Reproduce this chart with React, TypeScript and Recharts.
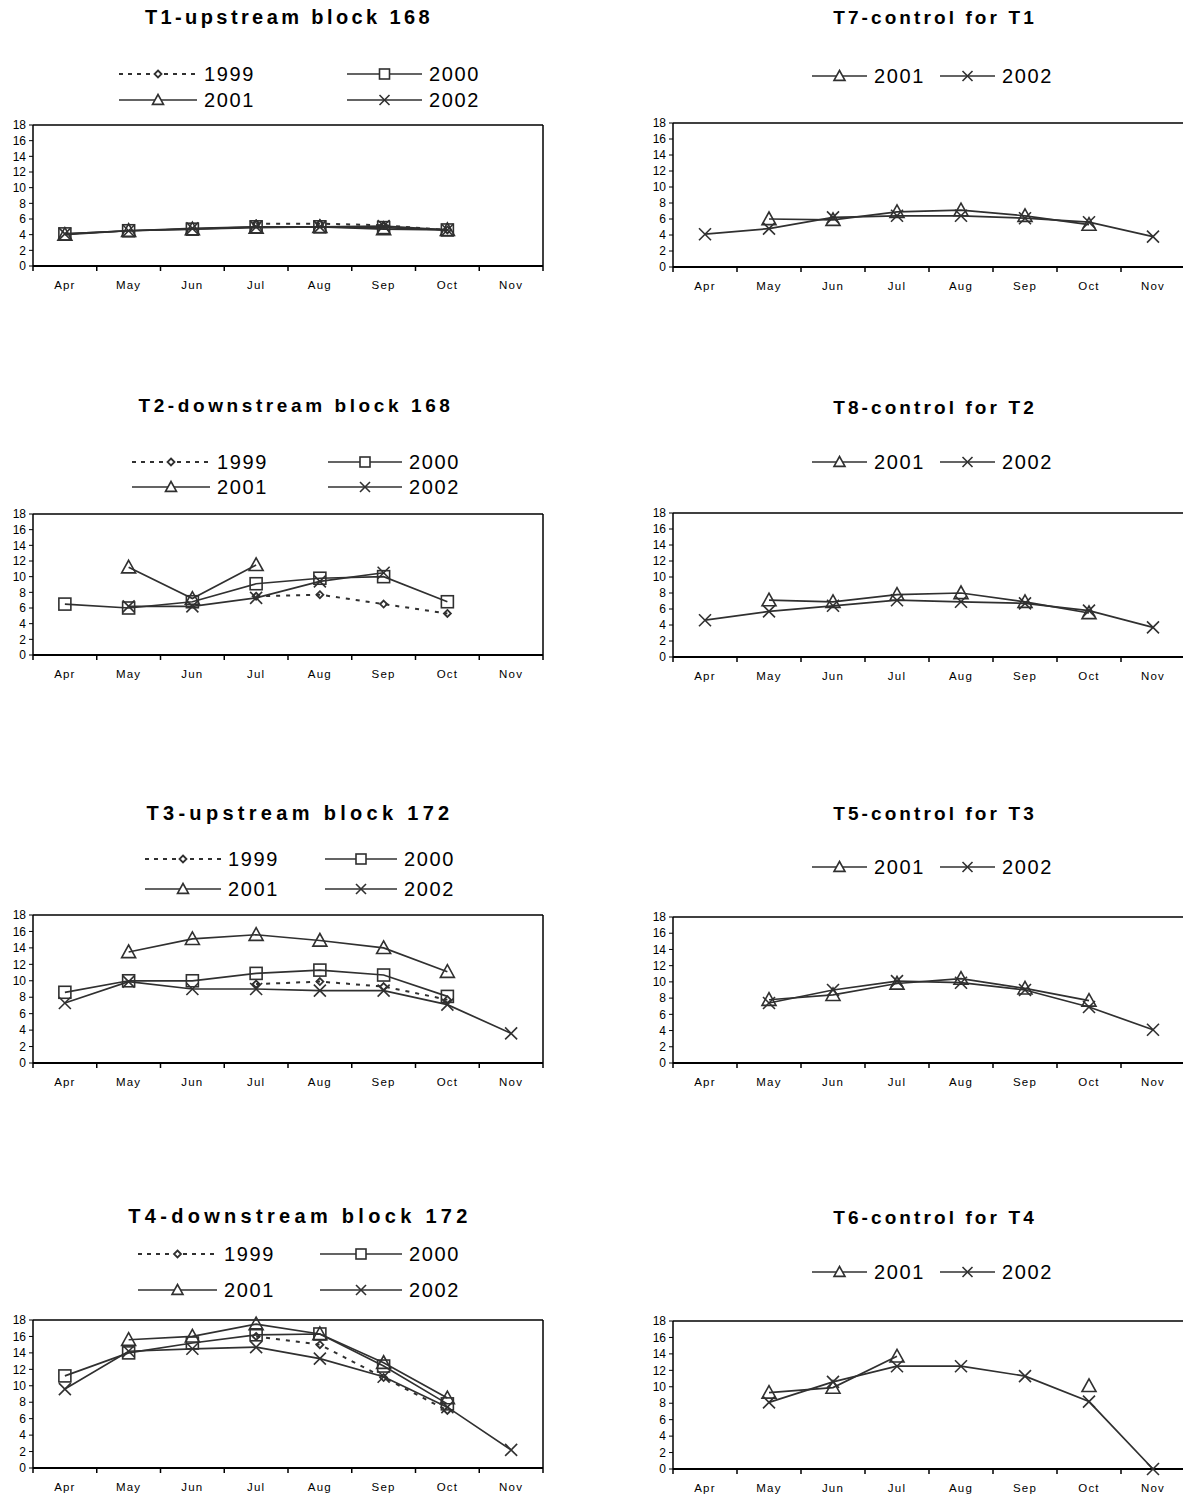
import { Line, LineChart, XAxis, YAxis } from 'recharts'

type Year = '1999' | '2000' | '2001' | '2002'
type Val = number | null

const months = ['Apr', 'May', 'Jun', 'Jul', 'Aug', 'Sep', 'Oct', 'Nov']
const yTicks = [0, 2, 4, 6, 8, 10, 12, 14, 16, 18]
// month boundaries (whole numbers) and month centres (halves) on the 0..8 axis
const xTicks = [0, 0.5, 1, 1.5, 2, 2.5, 3, 3.5, 4, 4.5, 5, 5.5, 6, 6.5, 7, 7.5, 8]

// T1-upstream block 168
const t1y1999: Val[] = [null, null, null, 5.4, 5.4, 5.2, 4.6, null]
const t1y2000: Val[] = [4.1, 4.5, 4.7, 5.0, 5.0, 4.9, 4.6, null]
const t1y2001: Val[] = [4.0, 4.5, 4.7, 4.9, 5.0, 4.7, 4.6, null]
const t1y2002: Val[] = [4.1, 4.5, 4.8, 5.0, 5.0, 5.1, 4.6, null]

// T7-control for T1
const t7y2001: Val[] = [null, 6.0, 5.9, 6.9, 7.1, 6.4, 5.3, null]
const t7y2002: Val[] = [4.1, 4.8, 6.2, 6.4, 6.4, 6.1, 5.6, 3.8]

// T2-downstream block 168
const t2y1999: Val[] = [null, null, null, 7.5, 7.7, 6.5, 5.3, null]
const t2y2000: Val[] = [6.5, 6.0, 6.8, 9.1, 9.8, 10.0, 6.8, null]
const t2y2001: Val[] = [null, 11.2, 7.2, 11.5, null, null, null, null]
const t2y2002: Val[] = [null, 6.2, 6.2, 7.3, 9.4, 10.5, null, null]

// T8-control for T2
const t8y2001: Val[] = [null, 7.1, 6.9, 7.8, 8.0, 6.9, 5.5, null]
const t8y2002: Val[] = [4.6, 5.7, 6.4, 7.1, 6.9, 6.7, 5.8, 3.7]

// T3-upstream block 172
const t3y1999: Val[] = [null, null, null, 9.6, 9.9, 9.3, 7.7, null]
const t3y2000: Val[] = [8.6, 10.0, 10.0, 10.9, 11.3, 10.7, 8.1, null]
const t3y2001: Val[] = [null, 13.5, 15.1, 15.6, 14.9, 14.0, 11.1, null]
const t3y2002: Val[] = [7.3, 9.9, 9.0, 9.0, 8.8, 8.8, 7.1, 3.6]

// T5-control for T3
const t5y2001: Val[] = [null, 7.8, 8.4, 9.8, 10.4, 9.2, 7.7, null]
const t5y2002: Val[] = [null, 7.4, 9.0, 10.1, 9.9, 9.0, 6.9, 4.1]

// T4-downstream block 172
const t4y1999: Val[] = [null, null, null, 16.0, 15.0, 11.0, 7.0, null]
const t4y2000: Val[] = [11.2, 14.0, 15.2, 16.2, 16.3, 12.4, 7.8, null]
const t4y2001: Val[] = [null, 15.6, 16.0, 17.5, 16.3, 12.8, 8.5, null]
const t4y2002: Val[] = [9.6, 14.2, 14.5, 14.7, 13.3, 11.1, 7.4, 2.2]

// T6-control for T4
const t6y2001: Val[] = [null, 9.3, 9.9, 13.7, null, null, 10.1, null]
const t6y2002: Val[] = [null, 8.1, 10.6, 12.5, 12.5, 11.3, 8.2, 0]

const font = '"Liberation Sans", Arial, Helvetica, sans-serif'
const ink = '#000'
const lineInk = '#303030'

type Kind = 'diamond' | 'square' | 'triangle' | 'cross'
const yearKind: Record<Year, Kind> = { '1999': 'diamond', '2000': 'square', '2001': 'triangle', '2002': 'cross' }
const chartSize: Record<Kind, number> = { diamond: 7, square: 12, triangle: 14, cross: 12 }
const legendSize: Record<Kind, number> = { diamond: 7, square: 10, triangle: 11, cross: 10 }

function Marker({ cx, cy, kind, s, fill }: { cx: number; cy: number; kind: Kind; s: number; fill: string }) {
  const h = s / 2
  if (kind === 'diamond')
    return <polygon points={`${cx},${cy - h} ${cx + h},${cy} ${cx},${cy + h} ${cx - h},${cy}`} fill={fill} stroke={lineInk} strokeWidth={1.8} />
  if (kind === 'square')
    return <rect x={cx - h} y={cy - h} width={s} height={s} fill={fill} stroke={lineInk} strokeWidth={1.6} />
  if (kind === 'triangle')
    return <polygon points={`${cx},${cy - h} ${cx + h},${cy + h * 0.8} ${cx - h},${cy + h * 0.8}`} fill={fill} stroke={lineInk} strokeWidth={1.6} />
  return (
    <g stroke={lineInk} strokeWidth={1.6}>
      <line x1={cx - h} y1={cy - h} x2={cx + h} y2={cy + h} />
      <line x1={cx - h} y1={cy + h} x2={cx + h} y2={cy - h} />
    </g>
  )
}

const dotFor = (kind: Kind) => (p: any) => {
  const k = `${kind}-${p.index}`
  if (p.value == null || p.cx == null || p.cy == null) return <g key={k} />
  return <Marker key={k} cx={p.cx} cy={p.cy} kind={kind} s={chartSize[kind]} fill="none" />
}

// whole values get a short tick mark, half values get the month name
function MonthTick(p: any) {
  const v = Number(p.payload.value)
  if (Number.isInteger(v)) return <line x1={p.x} x2={p.x} y1={p.y} y2={p.y + 5} stroke={ink} strokeWidth={1.5} />
  return (
    <text x={p.x} y={p.y} dy={23} textAnchor="middle" fontSize={11.5} fill={ink} style={{ letterSpacing: 1.2, fontFamily: font }}>
      {months[Math.floor(v)]}
    </text>
  )
}

type LegendItem = { year: Year; x: number; y: number; len: number }
type Panel = {
  title: string
  series: Partial<Record<Year, Val[]>>
  titleX: number
  titleY: number
  titleSize: number
  titleSpacing: number
  legend: LegendItem[]
  plot: { left: number; right: number; top: number; bottom: number }
}

const L = { left: 33, right: 543 }
const R = { left: 673, right: 1185 }

const panels: Panel[] = [
  {
    title: 'T1-upstream block 168',
    series: { '1999': t1y1999, '2000': t1y2000, '2001': t1y2001, '2002': t1y2002 },
    titleX: 289, titleY: 17, titleSize: 20, titleSpacing: 3.4,
    legend: [
      { year: '1999', x: 119, y: 74, len: 78 },
      { year: '2000', x: 347, y: 74, len: 75 },
      { year: '2001', x: 119, y: 100, len: 78 },
      { year: '2002', x: 347, y: 100, len: 75 },
    ],
    plot: { ...L, top: 125, bottom: 266 },
  },
  {
    title: 'T7-control for T1',
    series: { '2001': t7y2001, '2002': t7y2002 },
    titleX: 935, titleY: 17, titleSize: 19, titleSpacing: 3.1,
    legend: [
      { year: '2001', x: 812, y: 76, len: 55 },
      { year: '2002', x: 940, y: 76, len: 55 },
    ],
    plot: { ...R, top: 123, bottom: 267 },
  },
  {
    title: 'T2-downstream block 168',
    series: { '1999': t2y1999, '2000': t2y2000, '2001': t2y2001, '2002': t2y2002 },
    titleX: 296, titleY: 405, titleSize: 19, titleSpacing: 3.6,
    legend: [
      { year: '1999', x: 132, y: 462, len: 78 },
      { year: '2000', x: 328, y: 462, len: 74 },
      { year: '2001', x: 132, y: 487, len: 78 },
      { year: '2002', x: 328, y: 487, len: 74 },
    ],
    plot: { ...L, top: 514, bottom: 655 },
  },
  {
    title: 'T8-control for T2',
    series: { '2001': t8y2001, '2002': t8y2002 },
    titleX: 935, titleY: 407, titleSize: 19, titleSpacing: 3.1,
    legend: [
      { year: '2001', x: 812, y: 462, len: 55 },
      { year: '2002', x: 940, y: 462, len: 55 },
    ],
    plot: { ...R, top: 513, bottom: 657 },
  },
  {
    title: 'T3-upstream block 172',
    series: { '1999': t3y1999, '2000': t3y2000, '2001': t3y2001, '2002': t3y2002 },
    titleX: 300, titleY: 813, titleSize: 20, titleSpacing: 4.3,
    legend: [
      { year: '1999', x: 145, y: 859, len: 76 },
      { year: '2000', x: 325, y: 859, len: 72 },
      { year: '2001', x: 145, y: 889, len: 76 },
      { year: '2002', x: 325, y: 889, len: 72 },
    ],
    plot: { ...L, top: 915, bottom: 1063 },
  },
  {
    title: 'T5-control for T3',
    series: { '2001': t5y2001, '2002': t5y2002 },
    titleX: 935, titleY: 813, titleSize: 19, titleSpacing: 3.1,
    legend: [
      { year: '2001', x: 812, y: 867, len: 55 },
      { year: '2002', x: 940, y: 867, len: 55 },
    ],
    plot: { ...R, top: 917, bottom: 1063 },
  },
  {
    title: 'T4-downstream block 172',
    series: { '1999': t4y1999, '2000': t4y2000, '2001': t4y2001, '2002': t4y2002 },
    titleX: 300, titleY: 1216, titleSize: 20, titleSpacing: 4.3,
    legend: [
      { year: '1999', x: 138, y: 1254, len: 79 },
      { year: '2000', x: 320, y: 1254, len: 82 },
      { year: '2001', x: 138, y: 1290, len: 79 },
      { year: '2002', x: 320, y: 1290, len: 82 },
    ],
    plot: { ...L, top: 1320, bottom: 1468 },
  },
  {
    title: 'T6-control for T4',
    series: { '2001': t6y2001, '2002': t6y2002 },
    titleX: 935, titleY: 1217, titleSize: 19, titleSpacing: 3.1,
    legend: [
      { year: '2001', x: 812, y: 1272, len: 55 },
      { year: '2002', x: 940, y: 1272, len: 55 },
    ],
    plot: { ...R, top: 1321, bottom: 1469 },
  },
]

// chart box around the plot rectangle
const Y_W = 34
const M_TOP = 6
const M_RIGHT = 2
const X_H = 30

function LegendEntry({ item }: { item: LegendItem }) {
  const kind = yearKind[item.year]
  const dashed = item.year === '1999'
  return (
    <div style={{ position: 'absolute', left: item.x, top: item.y - 12, height: 24, display: 'flex', alignItems: 'center' }}>
      <svg width={item.len} height={16}>
        <line x1={0} x2={item.len} y1={8} y2={8} stroke={lineInk} strokeWidth={dashed ? 1.8 : 1.3} strokeDasharray={dashed ? '4 5' : undefined} />
        <Marker cx={item.len / 2} cy={8} kind={kind} s={legendSize[kind]} fill="#fff" />
      </svg>
      <span style={{ marginLeft: 7, fontSize: 20, letterSpacing: 1.6, color: ink, lineHeight: '24px' }}>{item.year}</span>
    </div>
  )
}

function PanelChart({ panel }: { panel: Panel }) {
  const { plot } = panel
  const years = (['1999', '2000', '2001', '2002'] as Year[]).filter((y) => panel.series[y])
  // each month sits in the middle of its slot on the 0..8 axis
  const rows = months.map((m, i) => {
    const row: Record<string, string | Val> = { month: m, pos: i + 0.5 }
    years.forEach((y) => (row[`y${y}`] = panel.series[y]![i]))
    return row
  })
  const width = plot.right - plot.left + Y_W + 1 + M_RIGHT
  const height = plot.bottom - plot.top + M_TOP + 1 + X_H
  return (
    <>
      <div
        style={{
          position: 'absolute',
          left: panel.titleX - 300,
          width: 600,
          top: panel.titleY - panel.titleSize * 0.6,
          textAlign: 'center',
          fontWeight: 'bold',
          fontSize: panel.titleSize,
          letterSpacing: panel.titleSpacing,
          color: ink,
          lineHeight: `${Math.round(panel.titleSize * 1.2)}px`,
        }}
      >
        {panel.title}
      </div>
      {panel.legend.map((item) => (
        <LegendEntry key={item.year} item={item} />
      ))}
      <div style={{ position: 'absolute', left: plot.left - Y_W, top: plot.top - M_TOP - 1 }}>
        <LineChart width={width} height={height} data={rows} margin={{ top: M_TOP, right: M_RIGHT, bottom: 0, left: 0 }}>
          <XAxis xAxisId="frameTop" orientation="top" type="number" domain={[0, 1]} height={1} tick={false} tickLine={false} axisLine={{ stroke: ink, strokeWidth: 1.5 }} />
          <YAxis yAxisId="frameRight" orientation="right" type="number" domain={[0, 1]} width={1} tick={false} tickLine={false} axisLine={{ stroke: ink, strokeWidth: 1.5 }} />
          <XAxis
            xAxisId="months"
            dataKey="pos"
            type="number"
            domain={[0, 8]}
            ticks={xTicks}
            interval={0}
            height={X_H}
            tickSize={0}
            tickMargin={0}
            tickLine={false}
            tick={<MonthTick />}
            axisLine={{ stroke: ink, strokeWidth: 2 }}
            allowDataOverflow
          />
          <YAxis
            yAxisId="val"
            type="number"
            domain={[0, 18]}
            ticks={yTicks}
            interval={0}
            width={Y_W}
            tickSize={4}
            tickMargin={3}
            tick={{ fontSize: 12, fill: ink, fontFamily: font }}
            tickLine={{ stroke: ink }}
            axisLine={{ stroke: ink, strokeWidth: 1.5 }}
          />
          {years.map((y) => (
            <Line
              key={y}
              xAxisId="months"
              yAxisId="val"
              type="linear"
              dataKey={`y${y}`}
              stroke={lineInk}
              strokeWidth={y === '1999' ? 2 : 1.7}
              strokeDasharray={y === '1999' ? '4 6' : undefined}
              dot={dotFor(yearKind[y])}
              activeDot={false}
              connectNulls={false}
              isAnimationActive={false}
            />
          ))}
        </LineChart>
      </div>
    </>
  )
}

export default function App() {
  return (
    <div style={{ position: 'absolute', left: 0, top: 0, width: 1183, height: 1500, overflow: 'hidden', background: '#fff', fontFamily: font }}>
      {panels.map((p) => (
        <PanelChart key={p.title} panel={p} />
      ))}
    </div>
  )
}
